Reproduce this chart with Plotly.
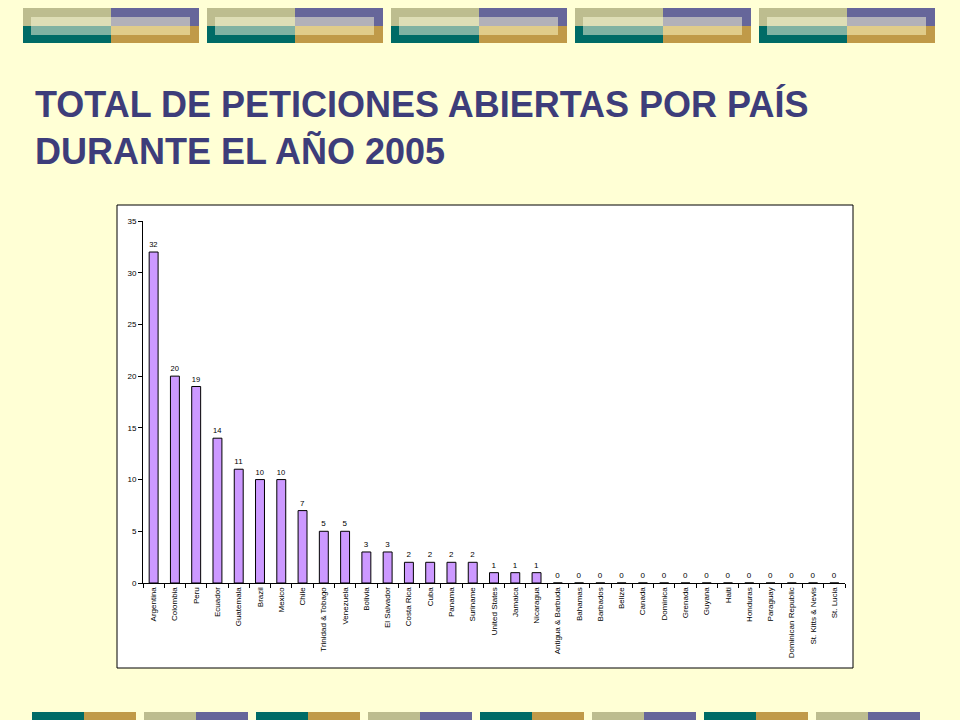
import plotly.graph_objects as go

# data
countries = ["Argentina", "Colombia", "Peru", "Ecuador", "Guatemala", "Brazil", "Mexico",
             "Chile", "Trinidad & Tobago", "Venezuela", "Bolivia", "El Salvador",
             "Costa Rica", "Cuba", "Panama", "Suriname", "United States", "Jamaica",
             "Nicaragua", "Antigua & Barbuda", "Bahamas", "Barbados", "Belize", "Canada",
             "Dominica", "Grenada", "Guyana", "Haiti", "Honduras", "Paraguay",
             "Dominican Republic", "St. Kitts & Nevis", "St. Lucia"]
peticiones = [32, 20, 19, 14, 11, 10, 10, 7, 5, 5, 3, 3, 2, 2, 2, 2, 1, 1, 1,
              0, 0, 0, 0, 0, 0, 0, 0, 0, 0, 0, 0, 0, 0]
y_ticks = [0, 5, 10, 15, 20, 25, 30, 35]

W, H = 960, 720
BG = "#FFFFD5"
KHAKI, PURPLE, TEAL, GOLD = "#BDBD8F", "#66669A", "#006B66", "#C09A48"


def px(x0, y0, x1, y1):
    # pixel box -> paper coords (margins are zero)
    return dict(x0=x0 / W, x1=x1 / W, y0=1 - y1 / H, y1=1 - y0 / H)


def rect(x0, y0, x1, y1, fill, line=None, width=0):
    d = dict(type="rect", xref="paper", yref="paper", fillcolor=fill, layer="below",
             line=dict(width=width, color=line or fill))
    d.update(px(x0, y0, x1, y1))
    return d


shapes = []
# top banner blocks
for i in range(5):
    bx = 23 + i * 184
    shapes.append(rect(bx, 8, bx + 88, 26, KHAKI))
    shapes.append(rect(bx + 88, 8, bx + 176, 26, PURPLE))
    shapes.append(rect(bx, 26, bx + 88, 43, TEAL))
    shapes.append(rect(bx + 88, 26, bx + 176, 43, GOLD))
    shapes.append(rect(bx + 8, 17, bx + 88, 26, "#DEDEB6"))
    shapes.append(rect(bx + 88, 17, bx + 167, 26, "#B2B1B9"))
    shapes.append(rect(bx + 8, 26, bx + 88, 35, "#80B2A2"))
    shapes.append(rect(bx + 88, 26, bx + 167, 35, "#E0CC8A"))
# bottom strip
for i in range(8):
    bx = 32 + i * 112
    left, right = (TEAL, GOLD) if i % 2 == 0 else (KHAKI, PURPLE)
    shapes.append(rect(bx, 712, bx + 52, 721, left))
    shapes.append(rect(bx + 52, 712, bx + 104, 721, right))
# white chart box
shapes.append(rect(117, 205, 853, 668, "white", line="black", width=1))

fig = go.Figure()
fig.add_trace(go.Bar(
    x=countries, y=peticiones,
    marker=dict(color="#CC99FF", line=dict(color="black", width=1)),
    width=0.42,
    text=peticiones, textposition="outside", cliponaxis=False,
    textfont=dict(family="Liberation Sans, Arial", size=8, color="black"),
))

fig.update_layout(
    width=W, height=H,
    margin=dict(l=0, r=0, t=0, b=0),
    paper_bgcolor=BG, plot_bgcolor="rgba(0,0,0,0)",
    showlegend=False,
    shapes=shapes,
    font=dict(family="Liberation Sans, Arial", size=8, color="black"),
    annotations=[dict(
        text="TOTAL DE PETICIONES ABIERTAS POR PAÍS<br>DURANTE EL AÑO 2005",
        xref="paper", yref="paper", x=33 / W, y=1 - 82 / H,
        xanchor="left", yanchor="top", align="left", showarrow=False,
        font=dict(family="Liberation Sans, Arial", size=36, color="#3D3D7A", weight="bold"),
    )],
    xaxis=dict(domain=[143 / W, 845 / W], automargin=False, tickangle=-90,
               showline=True, linecolor="black", linewidth=1,
               ticks="outside", ticklen=4, tickcolor="black", tickson="boundaries",
               tickfont=dict(size=8), showgrid=False),
    yaxis=dict(domain=[1 - 583 / H, 1 - 221 / H], automargin=False, range=[0, 35],
               tickvals=y_ticks, showline=True, linecolor="black", linewidth=1,
               ticks="outside", ticklen=4, tickcolor="black",
               tickfont=dict(size=8), showgrid=False, zeroline=False),
    bargap=0.58,
)

# drop the default page margin so the slide fills the window
fig.write_html("out.html", config={"displayModeBar": False},
               post_script="document.body.style.margin='0';"
                           "document.body.style.background='#FFFFD5';")
